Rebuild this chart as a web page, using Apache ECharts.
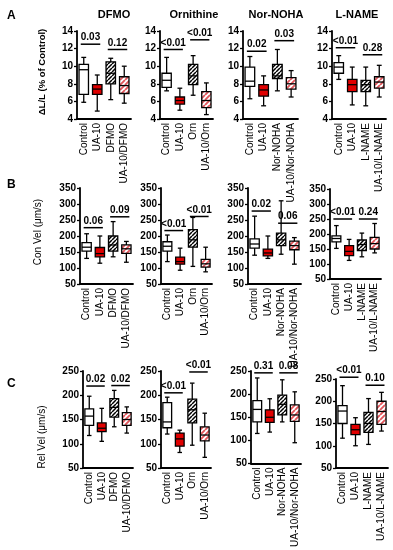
<!DOCTYPE html>
<html><head><meta charset="utf-8">
<script src="https://cdn.jsdelivr.net/npm/echarts@6/dist/echarts.min.js"></script>
<style>html,body{margin:0;padding:0;background:#fff}#c{width:393px;height:550px}</style>
</head><body><div id="c"></div>
<script>
// ---------- DATA ----------
const groupNames = ['DFMO', 'Ornithine', 'Nor-NOHA', 'L-NAME'];
const catsDFMO = ['Control', 'UA-10', 'DFMO', 'UA-10/DFMO'];
const catsOrn = ['Control', 'UA-10', 'Orn', 'UA-10/Orn'];
const catsNor = ['Control', 'UA-10', 'Nor-NOHA', 'UA-10/Nor-NOHA'];
const catsLN = ['Control', 'UA-10', 'L-NAME', 'UA-10/L-NAME'];

// box values: [min, Q1, median, Q3, max]
const lenDFMO = [[5.9, 6.8, 9.6, 10.2, 11.0], [4.9, 6.8, 7.4, 7.9, 9.0], [6.2, 8.0, 9.2, 10.5, 10.9], [5.8, 6.9, 7.8, 8.8, 10.0]];
const lenOrn = [[7.2, 7.6, 8.4, 9.2, 11.0], [5.0, 5.7, 6.1, 6.5, 7.5], [6.7, 7.9, 8.9, 10.2, 11.2], [4.5, 5.3, 6.1, 7.1, 8.1]];
const lenNor = [[6.3, 7.7, 8.3, 9.9, 11.1], [5.5, 6.6, 7.3, 7.9, 8.9], [7.2, 8.6, 8.9, 10.2, 11.9], [6.5, 7.4, 8.0, 8.7, 9.5]];
const lenLN = [[8.5, 9.2, 9.9, 10.4, 11.2], [5.6, 7.1, 7.9, 8.5, 9.9], [5.5, 7.1, 7.9, 8.4, 9.9], [6.5, 7.5, 8.2, 8.8, 10.1]];

const conDFMO = [[130, 153, 165, 179, 207], [115, 135, 145, 164, 200], [135, 153, 172, 200, 245], [118, 146, 160, 172, 183]];
const conOrn = [[120, 153, 168, 182, 203], [93, 112, 120, 134, 162], [105, 165, 188, 220, 258], [88, 103, 113, 127, 165]];
const conNor = [[140, 162, 175, 191, 262], [130, 138, 147, 159, 200], [143, 170, 188, 209, 310], [112, 157, 170, 184, 195]];
const conLN = [[152, 174, 185, 194, 228], [112, 128, 142, 161, 182], [124, 145, 165, 180, 203], [137, 150, 168, 189, 235]];

const relDFMO = [[117, 138, 157, 172, 198], [105, 125, 132, 143, 173], [135, 155, 175, 193, 210], [122, 138, 150, 164, 176]];
const relOrn = [[120, 133, 145, 185, 196], [82, 95, 110, 122, 128], [97, 143, 170, 192, 225], [72, 106, 118, 135, 163]];
const relNor = [[115, 140, 167, 186, 235], [118, 139, 150, 166, 190], [140, 155, 178, 198, 231], [95, 141, 155, 177, 205]];
const relLN = [[117, 150, 178, 190, 235], [100, 125, 136, 148, 163], [103, 130, 150, 175, 206], [133, 148, 177, 200, 220]];

// significance: [fromCat, toCat, level, p-value text]
const sigLenDFMO = [[0, 1, 12.5, '0.03'], [2, 3, 11.9, '0.12']];
const sigLenOrn = [[0, 1, 11.9, '<0.01'], [2, 3, 13.0, '<0.01']];
const sigLenNor = [[0, 1, 11.7, '0.02'], [2, 3, 12.9, '0.03']];
const sigLenLN = [[0, 1, 12.1, '<0.01'], [2, 3, 11.3, '0.28']];
const sigConDFMO = [[0, 1, 226, '0.06'], [2, 3, 260, '0.09']];
const sigConOrn = [[0, 1, 217, '<0.01'], [2, 3, 261, '<0.01']];
const sigConNor = [[0, 1, 278, '0.02'], [2, 3, 240, '0.06']];
const sigConLN = [[0, 1, 250, '<0.01'], [2, 3, 250, '0.24']];
const sigRelDFMO = [[0, 1, 219, '0.02'], [2, 3, 220, '0.02']];
const sigRelOrn = [[0, 1, 205, '<0.01'], [2, 3, 248, '<0.01']];
const sigRelNor = [[0, 1, 246, '0.31'], [2, 3, 246, '0.08']];
const sigRelLN = [[0, 1, 254, '<0.01'], [2, 3, 236, '0.10']];

const yTicksLen = [4, 14, 2];
const yTicksCon = [50, 350, 50];
const yTicksRel = [50, 250, 50];

// ---------- LAYOUT / STYLE ----------
const FONT = 'Liberation Sans, Arial, sans-serif';
const cats = [catsDFMO, catsOrn, catsNor, catsLN];
const rows = [
  { boxes: [lenDFMO, lenOrn, lenNor, lenLN], sigs: [sigLenDFMO, sigLenOrn, sigLenNor, sigLenLN], ticks: yTicksLen,
    grids: [[77, 31, 54, 88], [160, 31, 53, 88], [243, 31, 55, 88], [332, 31, 54, 88]] },
  { boxes: [conDFMO, conOrn, conNor, conLN], sigs: [sigConDFMO, sigConOrn, sigConNor, sigConLN], ticks: yTicksCon,
    grids: [[80, 188, 53, 96], [161, 188, 51, 96], [248, 188, 53, 96], [330, 189, 51, 90]] },
  { boxes: [relDFMO, relOrn, relNor, relLN], sigs: [sigRelDFMO, sigRelOrn, sigRelNor, sigRelLN], ticks: yTicksRel,
    grids: [[83, 371, 50, 97], [161, 371, 50, 97], [251, 371, 50, 97], [336, 379, 52, 89]] }
];

function hatch(color, size, lw) {
  const c = document.createElement('canvas');
  c.width = size; c.height = size;
  const g = c.getContext('2d');
  g.fillStyle = '#fff'; g.fillRect(0, 0, size, size);
  g.strokeStyle = color; g.lineWidth = lw;
  g.beginPath();
  for (let k = -1; k <= 1; k++) {
    g.moveTo(k * size, size); g.lineTo(k * size + size, 0);
  }
  g.stroke();
  return c;
}
const blackHatch = { image: hatch('#000', 4, 1.5), repeat: 'repeat' };
const redHatch = { image: hatch('#e2555b', 5, 1.9), repeat: 'repeat' };
const fills = ['#ffffff', '#e00000', blackHatch, redHatch];

function renderBox(params, api) {
  const x = api.value(0);
  const p = [1, 2, 3, 4, 5].map(k => api.coord([x, api.value(k)]));
  const band = api.size([1, 0])[0];
  const bw = band * 0.7, cw = band * 0.36;
  const cx = p[2][0];
  const ls = { stroke: '#000', lineWidth: 1.3 };
  return {
    type: 'group',
    children: [
      { type: 'line', shape: { x1: cx, y1: p[0][1], x2: cx, y2: p[4][1] }, style: ls },
      { type: 'line', shape: { x1: cx - cw / 2, y1: p[0][1], x2: cx + cw / 2, y2: p[0][1] }, style: ls },
      { type: 'line', shape: { x1: cx - cw / 2, y1: p[4][1], x2: cx + cw / 2, y2: p[4][1] }, style: ls },
      { type: 'rect', shape: { x: cx - bw / 2, y: p[3][1], width: bw, height: p[1][1] - p[3][1] },
        style: { fill: fills[x], stroke: '#000', lineWidth: 1.3 } },
      { type: 'line', shape: { x1: cx - bw / 2, y1: p[2][1], x2: cx + bw / 2, y2: p[2][1] }, style: ls }
    ]
  };
}

function makeSigRender(sig) {
  return function (params, api) {
    const s = sig[params.dataIndex];
    const a = api.coord([api.value(0), api.value(2)]);
    const b = api.coord([api.value(1), api.value(2)]);
    const x1 = a[0] - 3, x2 = b[0] + 3;
    return {
      type: 'group',
      children: [
        { type: 'line', shape: { x1: x1, y1: a[1], x2: x2, y2: a[1] }, style: { stroke: '#000', lineWidth: 1.5 } },
        { type: 'text', style: { text: s[3], x: (x1 + x2) / 2, y: a[1] - 1.5, align: 'center', verticalAlign: 'bottom',
          font: 'bold 10px ' + FONT, fill: '#000' } }
      ]
    };
  };
}

const grid = [], xAxis = [], yAxis = [], series = [];
rows.forEach((row, r) => {
  row.grids.forEach((g, c) => {
    const idx = grid.length;
    grid.push({ left: g[0], top: g[1], width: g[2], height: g[3], containLabel: false });
    xAxis.push({
      type: 'category', gridIndex: idx, data: cats[c], boundaryGap: true,
      axisLine: { lineStyle: { color: '#000', width: 1.8 } },
      axisTick: { show: false },
      axisLabel: { rotate: 90, interval: 0, fontSize: 10, fontFamily: FONT, color: '#000', margin: 4 },
      splitLine: { show: false }
    });
    yAxis.push({
      type: 'value', gridIndex: idx, min: row.ticks[0], max: row.ticks[1], interval: row.ticks[2],
      axisLine: { show: true, lineStyle: { color: '#000', width: 1.8 } },
      axisTick: { show: true, length: 3, lineStyle: { color: '#000', width: 1.3 } },
      axisLabel: { fontSize: 10, fontWeight: 'bold', fontFamily: FONT, color: '#000', margin: 4 },
      splitLine: { show: false }
    });
    series.push({
      type: 'custom', xAxisIndex: idx, yAxisIndex: idx, renderItem: renderBox, clip: false,
      encode: { x: 0, y: [1, 2, 3, 4, 5] },
      data: row.boxes[c].map((v, i) => [i].concat(v))
    });
    const sig = row.sigs[c];
    series.push({
      type: 'custom', xAxisIndex: idx, yAxisIndex: idx, renderItem: makeSigRender(sig), clip: false,
      encode: { x: [0, 1], y: 2 },
      data: sig.map(s => [s[0], s[1], s[2]])
    });
  });
});

const titleX = [114, 194, 276, 357];
const graphic = [];
groupNames.forEach((n, i) => graphic.push({ type: 'text', x: titleX[i], y: 15,
  style: { text: n, align: 'center', verticalAlign: 'middle', font: 'bold 11px ' + FONT, fill: '#000' } }));
[['A', 16], ['B', 185], ['C', 384]].forEach(l => graphic.push({ type: 'text', x: 7, y: l[1],
  style: { text: l[0], align: 'left', verticalAlign: 'middle', font: 'bold 12px ' + FONT, fill: '#000' } }));
[['ΔL/L (% of Control)', 42, 72, 'bold 9.5px '], ['Con Vel (μm/s)', 38, 232, '10px '], ['Rel Vel (μm/s)', 42, 437, '10px ']]
  .forEach(t => graphic.push({ type: 'text', x: t[1], y: t[2], rotation: Math.PI / 2,
    style: { text: t[0], align: 'center', verticalAlign: 'middle', font: t[3] + FONT, fill: '#000' } }));

const chart = echarts.init(document.getElementById('c'), null, { renderer: 'canvas' });
chart.setOption({ animation: false, backgroundColor: '#fff', grid, xAxis, yAxis, series, graphic });
</script></body></html>
